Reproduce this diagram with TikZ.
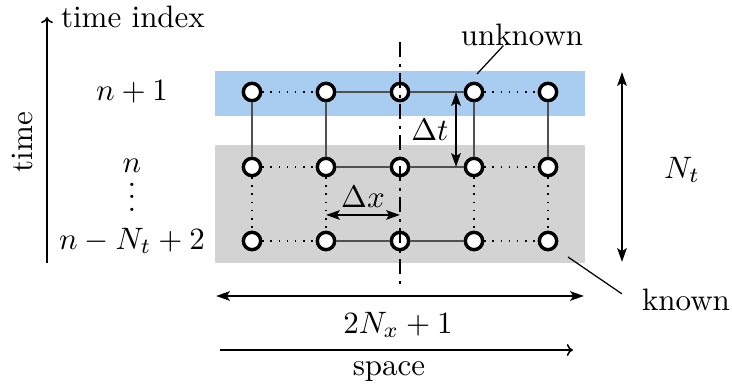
\documentclass[tikz,border=0pt]{standalone}
\usepackage{xcolor}
\usetikzlibrary{arrows.meta,positioning}
\definecolor{unknownblue}{HTML}{A9CCF1}
\definecolor{knowngray}{HTML}{D3D3D3}
\definecolor{linkgray}{HTML}{505050}

\begin{document}
\begin{tikzpicture}[
  x=0.3226pt,y=-0.3226pt,
  >=Stealth,
  gridpt/.style={circle,draw=black,fill=white,line width=1.1pt,
    minimum size=5.6pt,inner sep=0pt},
  link/.style={linkgray,line width=.6pt},
  dotlink/.style={black,dotted,line width=.6pt},
  dim/.style={line width=.9pt,
    {Stealth[length=4.4pt,width=3pt,inset=.9pt]}-{Stealth[length=4.4pt,width=3pt,inset=.9pt]}},
  axis/.style={line width=.5pt,-{To[length=2pt,width=3.8pt]}},
  leader/.style={line width=.4pt}
]
  \useasboundingbox (0,0) rectangle (732,389);
  % known / unknown bands
  \fill[unknownblue] (215,71) rectangle (585,116);
  \fill[knowngray] (215,145) rectangle (585,263);

  % grid points
  \foreach \r/\y in {1/92,2/167,3/241}
    \foreach \c/\x in {0/252,1/326,2/400,3/474,4/548}
      \node[gridpt] (g-\r-\c) at (\x,\y) {};

  % links
  \foreach \r in {1,2,3} {
    \draw[dotlink] (g-\r-0) -- (g-\r-1);
    \draw[link] (g-\r-1) -- (g-\r-2);
    \draw[link] (g-\r-2) -- (g-\r-3);
    \draw[dotlink] (g-\r-3) -- (g-\r-4);
  }
  \foreach \c in {0,1,3,4} {
    \draw[link] (g-1-\c) -- (g-2-\c);
    \draw[dotlink] (g-2-\c) -- (g-3-\c);
  }

  % centre line
  \coordinate (mid-top) at (400,42);
  \coordinate (mid-bot) at (400,288);
  \draw[line width=.8pt,dash pattern=on 5pt off 2pt on 1pt off 2pt]
    (mid-top) -- (mid-bot);

  % steps
  \draw[dim] ([xshift=-5.8pt]g-1-3.center) --
    node[left,inner sep=2pt] (dt) {$\Delta t$} ([xshift=-5.8pt]g-2-3.center);
  \draw[dim] ([yshift=8.4pt]g-3-1.center) --
    node[above,inner sep=2pt] (dx) {$\Delta x$} ([yshift=8.4pt]g-3-2.center);

  % time indices
  \node[inner sep=2pt] (idx-1) at (132,92) {$n+1$};
  \node[inner sep=1pt] (idx-2) at (132,166) {$n$};
  \node[inner sep=0pt] (idx-v) at (132,197)
    {\vbox{\baselineskip4pt\lineskiplimit0pt\hbox{.}\hbox{.}\hbox{.}}};
  \node[inner sep=2pt] (idx-3) at (132,241) {$n-N_t+2$};

  % time axis
  \coordinate (t-start) at (47,263);
  \coordinate (t-end) at (47,17);
  \draw[axis] (t-start) -- (t-end);
  \node[right=1pt of t-end] (t-title) {time index};
  \node[rotate=90] (t-lab) at (22,142) {time};

  % window height
  \coordinate (nt-top) at (622,72);
  \coordinate (nt-bot) at (622,262);
  \draw[dim] (nt-top) -- (nt-bot);
  \node (nt) at (682,170) {$N_t$};

  % window width
  \coordinate (nx-left) at (216,296);
  \coordinate (nx-right) at (584,296);
  \draw[dim] (nx-left) -- (nx-right);
  \node (nx) at (398,325) {$2N_x+1$};

  % space axis
  \coordinate (s-start) at (220,350);
  \coordinate (s-end) at (573,350);
  \draw[axis] (s-start) -- (s-end);
  \node (s-lab) at (389,372) {space};

  % band labels
  \node (unk) at (522,35) {unknown};
  \coordinate (unk-tip) at (477,74);
  \draw[leader] ([xshift=-6pt]unk.base) -- (unk-tip);
  \node (kn) at (686,300) {known};
  \coordinate (kn-tip) at (568,257);
  \draw[leader] (kn-tip) -- ([xshift=-3pt,yshift=2pt]kn.west);
\end{tikzpicture}
\end{document}
